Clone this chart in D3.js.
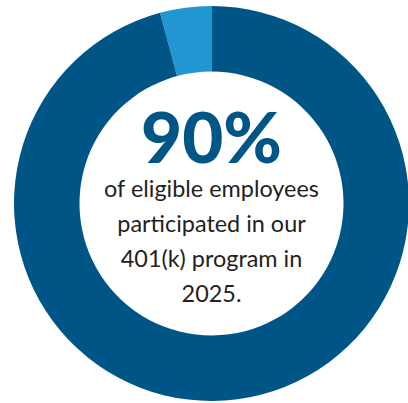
<!DOCTYPE html>
<html>
<head>
<meta charset="utf-8">
<script src="https://cdn.jsdelivr.net/npm/d3@7/dist/d3.min.js"></script>
<style>
  html, body { margin: 0; padding: 0; background: #ffffff; }
  svg { display: block; }
</style>
</head>
<body>
<svg id="chart" width="408" height="403"></svg>
<script>
// Ring segments: small highlighted share and the remainder
const segments = ["highlight", "rest"];
const shares = [4.2, 95.8];
const segmentColors = ["#2295d3", "#005587"];

// Centre statistic and caption
const headline = "90%";
const captionLines = ["of eligible employees", "participated in our", "401(k) program in", "2025."];

const svg = d3.select("#chart");
const cx = 211.5, cy = 203.5;
const outerR = 197.5, innerR = 132;

const g = svg.append("g").attr("transform", `translate(${cx},${cy})`);

const pie = d3.pie().sort(null).value(d => d.value)
  .startAngle(-2 * Math.PI * shares[0] / 100)
  .endAngle(2 * Math.PI - 2 * Math.PI * shares[0] / 100);
const arc = d3.arc().innerRadius(innerR).outerRadius(outerR);

const data = segments.map((s, i) => ({ key: s, value: shares[i] }));
g.selectAll("path.seg")
  .data(pie(data))
  .join("path")
  .attr("class", "seg")
  .attr("d", arc)
  .attr("fill", (d, i) => segmentColors[i]);

// Fit a text element to a target width by scaling its font size
function fitWidth(sel, target) {
  const node = sel.node();
  const w = node.getComputedTextLength();
  const fs = parseFloat(sel.attr("font-size"));
  sel.attr("font-size", fs * target / w);
}

const head = g.append("text")
  .attr("x", 0).attr("y", 163 - cy)
  .attr("text-anchor", "middle")
  .attr("font-family", "Lato, 'Open Sans', sans-serif")
  .attr("font-weight", 900)
  .attr("font-size", 64)
  .attr("fill", "#005587")
  .text(headline);
fitWidth(head, 141);

const baselines = [197, 232, 267, 302];
const widths = [215, 188, 184, 64];
captionLines.forEach((line, i) => {
  const t = g.append("text")
    .attr("x", 0).attr("y", baselines[i] - cy)
    .attr("text-anchor", "middle")
    .attr("font-family", "Lato, 'Open Sans', sans-serif")
    .attr("font-size", 24)
    .attr("fill", "#231f20")
    .text(line);
  if (i === 0) {
    const w = t.node().getComputedTextLength();
    g.attr("data-scale", 215 / w);
  }
});
// Use one shared size for every caption line, based on the first line's width
const scale = +g.attr("data-scale");
g.selectAll("text").filter((d, i) => i > 0).attr("font-size", 24 * scale);
</script>
</body>
</html>
